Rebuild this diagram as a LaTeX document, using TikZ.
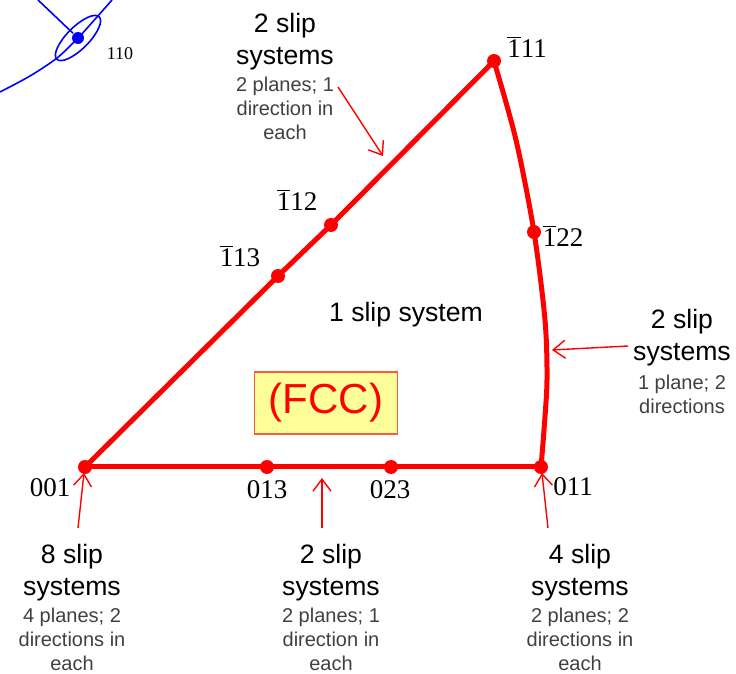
\documentclass[tikz,border=0pt]{standalone}
\usepackage{fontspec}
\setmainfont{Liberation Serif}
\setsansfont{Liberation Sans}
\usetikzlibrary{arrows.meta,positioning}
\definecolor{fccfill}{HTML}{FFFF99}
\definecolor{fccline}{HTML}{FF5A3C}
\definecolor{notegray}{HTML}{404040}
\newcommand{\bone}{$\overline{\mbox{1}}$}
\tikzset{
  pole/.style={circle,fill=red,inner sep=0pt,minimum size=7pt},
  edge/.style={red,line width=2.5pt,line join=round},
  slip/.style={red,line width=0.7pt,-{Straight Barb[length=6pt,width=9pt]}},
  idx/.style={font=\fontsize{13.5}{15}\selectfont,inner sep=0pt},
  head/.style={font=\sffamily\fontsize{13.3}{16}\selectfont,align=center,inner sep=0pt},
  note/.style={font=\sffamily\fontsize{10}{12}\selectfont,text=notegray,align=center,inner sep=0pt},
  fcc/.style={draw=fccline,fill=fccfill,text=red,line width=0.6pt,font=\sffamily\fontsize{21}{24}\selectfont,minimum width=71.5pt,minimum height=31pt}
}

\begin{document}
\begin{tikzpicture}[x=0.5pt,y=-0.5pt]
\useasboundingbox (0,0) rectangle (736,674);

% 110 pole (blue)
\begin{scope}[blue,line width=0.8pt]
\clip (0,0) rectangle (736,674);
\node[circle,fill=blue,inner sep=0pt,minimum size=6pt] (b110) at (78,38) {};
\draw plot[smooth] coordinates {(0,92) (30,76) (57,58) (78,38) (97,17) (112,0)};
\draw (38,0) -- (b110);
\draw[rotate around={45:(b110)}] (b110) ellipse [x radius=15pt, y radius=5.5pt];
\end{scope}
\node[font=\fontsize{9}{10}\selectfont,inner sep=0pt] (l110) at (120,54) {110};

% stereographic triangle
\node[pole] (p001) at (85,467) {};
\node[pole] (p013) at (267,467) {};
\node[pole] (p023) at (391,467) {};
\node[pole] (p011) at (541,467) {};
\node[pole] (p113) at (278,276) {};
\node[pole] (p112) at (331,225) {};
\node[pole] (p111) at (494,61) {};
\node[pole] (p122) at (534,232) {};
\draw[edge] (p001.center) -- (p113.center) -- (p112.center) -- (p111.center);
\draw[edge] (p001.center) -- (p013.center) -- (p023.center) -- (p011.center);
\draw[edge] plot[smooth] coordinates {(p111.center) (516,140) (p122.center) (545,320) (547,380) (544,430) (p011.center)};

\node[idx] (l001) at (50,488) {001};
\node[idx] (l013) at (267,490) {013};
\node[idx] (l023) at (390,490) {023};
\node[idx] (l011) at (573,487) {011};
\node[idx] (l113) at (240,256) {\bone13};
\node[idx] (l112) at (297,200) {\bone12};
\node[idx] (l111) at (527,47) {\bone11};
\node[idx] (l122) at (563,236) {\bone22};

\node[head] (inner) at (406,315) {1 slip system};
\node[fcc] (fcc) at (326,403) {(FCC)};

% slip system labels
\node[head,anchor=north] (hTop) at (285,13) {2 slip\\systems};
\node[note,below=3pt of hTop] (nTop) {2 planes; 1\\direction in\\each};
\node[head,anchor=north] (hRight) at (682,309) {2 slip\\systems};
\node[note,below=4pt of hRight] (nRight) {1 plane; 2\\directions};
\node[head,anchor=north] (hA) at (72,544) {8 slip\\systems};
\node[note,below=3pt of hA] (nA) {4 planes; 2\\directions in\\each};
\node[head,anchor=north] (hB) at (331,544) {2 slip\\systems};
\node[note,below=3pt of hB] (nB) {2 planes; 1\\direction in\\each};
\node[head,anchor=north] (hC) at (580,544) {4 slip\\systems};
\node[note,below=3pt of hC] (nC) {2 planes; 2\\directions in\\each};

\coordinate (tTop) at (338,87);   \coordinate (aTop) at (383,156);
\coordinate (tRight) at (628,346); \coordinate (aRight) at (552,350);
\coordinate (tA) at (78,528);     \coordinate (aA) at (84,473);
\coordinate (tB) at (322,528);    \coordinate (aB) at (322,478);
\coordinate (tC) at (548,528);    \coordinate (aC) at (542,473);
\draw[slip] (tTop) -- (aTop);
\draw[slip] (tRight) -- (aRight);
\draw[slip] (tA) -- (aA);
\draw[slip] (tB) -- (aB);
\draw[slip] (tC) -- (aC);
\end{tikzpicture}
\end{document}
